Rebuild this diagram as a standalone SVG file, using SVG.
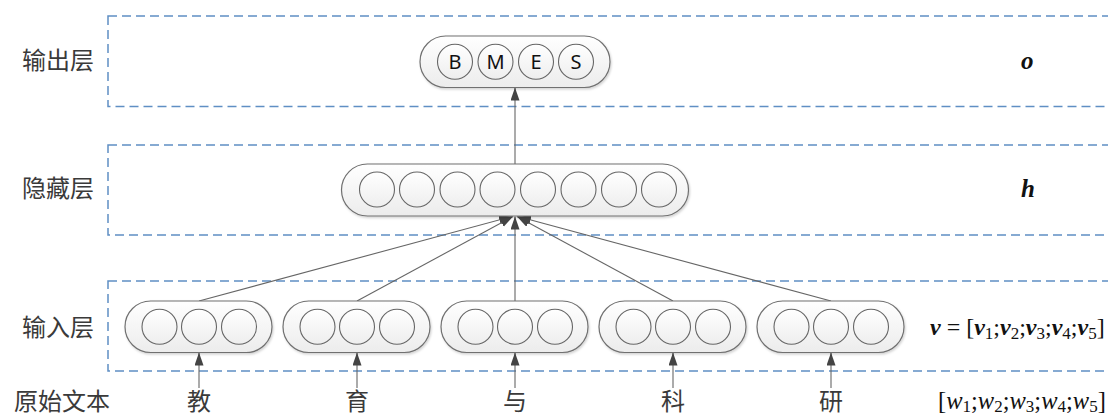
<svg xmlns="http://www.w3.org/2000/svg" width="1108" height="416" viewBox="0 0 1108 416">
<defs>
<linearGradient id="gNode" x1="0" y1="0" x2="0" y2="1">
<stop offset="0" stop-color="#ffffff"/>
<stop offset="1" stop-color="#ececec"/>
</linearGradient>
<linearGradient id="gCirc" x1="0" y1="0" x2="0" y2="1">
<stop offset="0" stop-color="#ffffff"/>
<stop offset="1" stop-color="#eeeeee"/>
</linearGradient>
<filter id="sh" x="-10%" y="-20%" width="120%" height="150%">
<feDropShadow dx="1" dy="1.5" stdDeviation="1" flood-color="#000" flood-opacity="0.18"/>
</filter>
<marker id="ah" markerUnits="userSpaceOnUse" markerWidth="14" markerHeight="10" refX="13" refY="4.5" orient="auto">
<path d="M0,0 L13,4.5 L0,9 z" fill="#444"/>
</marker>
</defs>
<style>
.layer{fill:none;stroke:#5f8fc4;stroke-width:1.5;stroke-dasharray:9 5}
.node{fill:url(#gNode);stroke:#707070;stroke-width:1.2}
.c{fill:url(#gCirc);stroke:#666;stroke-width:1.1}
.lbl{font-family:"Noto Sans CJK SC","Noto Sans CJK TC",sans-serif;font-size:24px;fill:#3a3a3a}
.tag{font-family:"Noto Sans","DejaVu Sans",sans-serif;font-size:20px;fill:#111;text-anchor:middle}
.math{font-family:"Liberation Serif","Times New Roman",serif;fill:#111}
.conn{stroke:#666;stroke-width:1.1;fill:none}
</style>

<g id="layers">
<rect class="layer" x="108" y="16" width="1020" height="90.5"/>
<rect class="layer" x="108" y="145" width="1020" height="90"/>
<rect class="layer" x="108" y="281" width="1020" height="90"/>
</g>

<g id="labels">
<text class="lbl" x="22" y="69">输出层</text>
<text class="lbl" x="22" y="197">隐藏层</text>
<text class="lbl" x="22" y="336">输入层</text>
<text class="lbl" x="14" y="410">原始文本</text>
<text class="math" x="1021" y="69" font-size="25" font-weight="bold" font-style="italic">o</text>
<text class="math" x="1021" y="197" font-size="25" font-weight="bold" font-style="italic">h</text>
<text class="math" x="930" y="335" font-size="24"><tspan font-weight="bold" font-style="italic">v</tspan> = [<tspan font-weight="bold" font-style="italic">v</tspan><tspan font-size="17" dy="4">1</tspan><tspan dy="-4">;</tspan><tspan font-weight="bold" font-style="italic">v</tspan><tspan font-size="17" dy="4">2</tspan><tspan dy="-4">;</tspan><tspan font-weight="bold" font-style="italic">v</tspan><tspan font-size="17" dy="4">3</tspan><tspan dy="-4">;</tspan><tspan font-weight="bold" font-style="italic">v</tspan><tspan font-size="17" dy="4">4</tspan><tspan dy="-4">;</tspan><tspan font-weight="bold" font-style="italic">v</tspan><tspan font-size="17" dy="4">5</tspan><tspan dy="-4">]</tspan></text>
<text class="math" x="938" y="409" font-size="24.5">[<tspan font-style="italic">w</tspan><tspan font-size="17" dy="3">1</tspan><tspan dy="-3">;</tspan><tspan font-style="italic">w</tspan><tspan font-size="17" dy="3">2</tspan><tspan dy="-3">;</tspan><tspan font-style="italic">w</tspan><tspan font-size="17" dy="3">3</tspan><tspan dy="-3">;</tspan><tspan font-style="italic">w</tspan><tspan font-size="17" dy="3">4</tspan><tspan dy="-3">;</tspan><tspan font-style="italic">w</tspan><tspan font-size="17" dy="3">5</tspan><tspan dy="-3">]</tspan></text>
</g>

<g id="connectors">
<line class="conn" x1="515" y1="164" x2="515" y2="87.5" marker-end="url(#ah)"/>
<line class="conn" x1="199" y1="301" x2="512" y2="216.5" marker-end="url(#ah)"/>
<line class="conn" x1="357" y1="301" x2="513" y2="216.5" marker-end="url(#ah)"/>
<line class="conn" x1="515" y1="301" x2="515" y2="216.5" marker-end="url(#ah)"/>
<line class="conn" x1="673" y1="301" x2="517" y2="216.5" marker-end="url(#ah)"/>
<line class="conn" x1="831" y1="301" x2="518" y2="216.5" marker-end="url(#ah)"/>
<line class="conn" x1="199" y1="388" x2="199" y2="352.5" marker-end="url(#ah)"/>
<line class="conn" x1="357" y1="388" x2="357" y2="352.5" marker-end="url(#ah)"/>
<line class="conn" x1="515" y1="388" x2="515" y2="352.5" marker-end="url(#ah)"/>
<line class="conn" x1="673" y1="388" x2="673" y2="352.5" marker-end="url(#ah)"/>
<line class="conn" x1="831" y1="388" x2="831" y2="352.5" marker-end="url(#ah)"/>
</g>

<g id="output">
<rect class="node" filter="url(#sh)" x="420" y="36" width="190" height="51.5" rx="25.75"/>
<circle class="c" cx="455" cy="61.7" r="17.5"/>
<circle class="c" cx="495.5" cy="61.7" r="17.5"/>
<circle class="c" cx="536" cy="61.7" r="17.5"/>
<circle class="c" cx="576" cy="61.7" r="17.5"/>
<text class="tag" x="455" y="68.8">B</text>
<text class="tag" x="495.5" y="68.8">M</text>
<text class="tag" x="536" y="68.8">E</text>
<text class="tag" x="576" y="68.8">S</text>
</g>

<g id="hidden">
<rect class="node" filter="url(#sh)" x="341.5" y="164" width="347" height="52" rx="26"/>
<circle class="c" cx="377" cy="189.5" r="17.5"/>
<circle class="c" cx="417" cy="189.5" r="17.5"/>
<circle class="c" cx="457.5" cy="189.5" r="17.5"/>
<circle class="c" cx="497.5" cy="189.5" r="17.5"/>
<circle class="c" cx="538" cy="189.5" r="17.5"/>
<circle class="c" cx="578.5" cy="189.5" r="17.5"/>
<circle class="c" cx="619" cy="189.5" r="17.5"/>
<circle class="c" cx="659" cy="189.5" r="17.5"/>
</g>

<g id="input1">
<rect class="node" filter="url(#sh)" x="125" y="301" width="147" height="51.5" rx="25.75"/>
<circle class="c" cx="159.5" cy="326.7" r="17.5"/>
<circle class="c" cx="199" cy="326.7" r="17.5"/>
<circle class="c" cx="239" cy="326.7" r="17.5"/>
</g>
<g id="input2">
<rect class="node" filter="url(#sh)" x="283" y="301" width="147" height="51.5" rx="25.75"/>
<circle class="c" cx="317.5" cy="326.7" r="17.5"/>
<circle class="c" cx="357" cy="326.7" r="17.5"/>
<circle class="c" cx="397" cy="326.7" r="17.5"/>
</g>
<g id="input3">
<rect class="node" filter="url(#sh)" x="441" y="301" width="147" height="51.5" rx="25.75"/>
<circle class="c" cx="475.5" cy="326.7" r="17.5"/>
<circle class="c" cx="515" cy="326.7" r="17.5"/>
<circle class="c" cx="555" cy="326.7" r="17.5"/>
</g>
<g id="input4">
<rect class="node" filter="url(#sh)" x="599" y="301" width="147" height="51.5" rx="25.75"/>
<circle class="c" cx="633.5" cy="326.7" r="17.5"/>
<circle class="c" cx="673" cy="326.7" r="17.5"/>
<circle class="c" cx="713" cy="326.7" r="17.5"/>
</g>
<g id="input5">
<rect class="node" filter="url(#sh)" x="757" y="301" width="147" height="51.5" rx="25.75"/>
<circle class="c" cx="791.5" cy="326.7" r="17.5"/>
<circle class="c" cx="831" cy="326.7" r="17.5"/>
<circle class="c" cx="871" cy="326.7" r="17.5"/>
</g>

<g id="words">
<text class="lbl" x="199" y="410" text-anchor="middle">教</text>
<text class="lbl" x="357" y="410" text-anchor="middle">育</text>
<text class="lbl" x="515" y="410" text-anchor="middle">与</text>
<text class="lbl" x="673" y="410" text-anchor="middle">科</text>
<text class="lbl" x="831" y="410" text-anchor="middle">研</text>
</g>
</svg>
